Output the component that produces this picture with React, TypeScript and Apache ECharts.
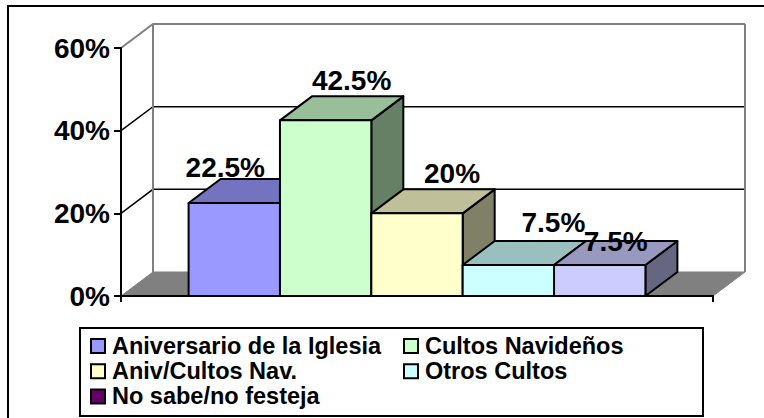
import React, { useEffect, useRef } from "react";
import * as echarts from "echarts";

const seriesNames = [
  "Aniversario de la Iglesia",
  "Cultos Navideños",
  "Aniv/Cultos Nav.",
  "Otros Cultos",
  "No sabe/no festeja",
];
const seriesValues = [22.5, 42.5, 20, 7.5, 7.5];
const legendColors = ["#9999FF", "#CCFFCC", "#FFFFCC", "#CCFFFF", "#660066"];
const barColors = ["#9999FF", "#CCFFCC", "#FFFFCC", "#CCFFFF", "#CCCCFF"];
const axisTicks = [0, 20, 40, 60];
const categories = [""];

// layout only
const DEPTH_X = 32;
const DEPTH_Y = 24;
const BARS_IN_BAND = 6.48;
const labelNudge = [
  [-9, -36],
  [26, -40],
  [35, -40],
  [45, -42.5],
  [16, -23.5],
];
const FONT = "'Liberation Sans', Arial, sans-serif";

function shade(hex: string, k: number) {
  const n = parseInt(hex.slice(1), 16);
  const c = [(n >> 16) & 255, (n >> 8) & 255, n & 255].map((v) => Math.round(v * k));
  return `rgb(${c[0]},${c[1]},${c[2]})`;
}

function renderWalls(params: any, api: any) {
  const cs = params.coordSys;
  const left = cs.x;
  const right = cs.x + cs.width;
  const floorY = api.coord([0, 0])[1];
  const topY = api.coord([0, axisTicks[axisTicks.length - 1]])[1];
  const gray = "#808080";
  const children: any[] = [];
  children.push({
    type: "polygon",
    shape: {
      points: [
        [left, floorY],
        [left + DEPTH_X, floorY - DEPTH_Y],
        [right + DEPTH_X, floorY - DEPTH_Y],
        [right, floorY],
      ],
    },
    style: { fill: gray, stroke: gray, lineWidth: 1 },
  });
  axisTicks.slice(1).forEach((v) => {
    const y = api.coord([0, v])[1];
    const stroke = v === axisTicks[axisTicks.length - 1] ? gray : "#000";
    const lineWidth = v === axisTicks[axisTicks.length - 1] ? 2 : 1.5;
    children.push({
      type: "polyline",
      shape: {
        points: [
          [left, y],
          [left + DEPTH_X, y - DEPTH_Y],
          [right + DEPTH_X, y - DEPTH_Y],
        ],
      },
      style: { fill: "none", stroke, lineWidth },
    });
  });
  children.push({
    type: "line",
    shape: { x1: left + DEPTH_X, y1: topY - DEPTH_Y, x2: left + DEPTH_X, y2: floorY - DEPTH_Y },
    style: { stroke: gray, lineWidth: 2 },
  });
  children.push({
    type: "line",
    shape: { x1: right + DEPTH_X, y1: topY - DEPTH_Y, x2: right + DEPTH_X, y2: floorY - DEPTH_Y },
    style: { stroke: gray, lineWidth: 2 },
  });
  return { type: "group", children };
}

function makeBarRenderer(i: number) {
  return (params: any, api: any) => {
    const base = api.coord([0, 0]);
    const top = api.coord([0, api.value(1)]);
    const band = api.size([1, 0])[0];
    const w = band / BARS_IN_BAND;
    const x0 = base[0] + (i - seriesValues.length / 2) * w;
    const x1 = x0 + w;
    const yT = top[1];
    const yB = base[1];
    const color = barColors[i];
    const edge = { stroke: "#000", lineWidth: 2, lineJoin: "round" };
    const value = api.value(1);
    return {
      type: "group",
      children: [
        {
          type: "polygon",
          shape: {
            points: [
              [x1, yB],
              [x1 + DEPTH_X, yB - DEPTH_Y],
              [x1 + DEPTH_X, yT - DEPTH_Y],
              [x1, yT],
            ],
          },
          style: { fill: shade(color, 0.5), ...edge },
        },
        {
          type: "polygon",
          shape: {
            points: [
              [x0, yT],
              [x0 + DEPTH_X, yT - DEPTH_Y],
              [x1 + DEPTH_X, yT - DEPTH_Y],
              [x1, yT],
            ],
          },
          style: { fill: shade(color, 0.75), ...edge },
        },
        {
          type: "rect",
          shape: { x: x0, y: yT, width: w, height: yB - yT },
          style: { fill: color, ...edge },
        },
        {
          type: "text",
          x: (x0 + x1) / 2 + labelNudge[i][0],
          y: yT + labelNudge[i][1],
          style: {
            text: `${value}%`,
            fill: "#000",
            fontFamily: FONT,
            fontWeight: "bold",
            fontSize: 28,
            align: "center",
            verticalAlign: "middle",
          },
        },
      ],
    };
  };
}

export default function App() {
  const ref = useRef<HTMLDivElement>(null);
  useEffect(() => {
    const chart = echarts.init(ref.current!, null, { renderer: "svg" });
    const legendBase = {
      orient: "vertical",
      icon: "rect",
      itemWidth: 14,
      itemHeight: 14,
      itemGap: 1.2,
      padding: 0,
      selectedMode: false,
      top: 334,
      itemStyle: { borderColor: "#000", borderWidth: 2 },
      textStyle: {
        fontFamily: FONT,
        fontWeight: "bold",
        fontSize: 23.5,
        color: "#000",
        padding: [0, 0, 0, 2],
        lineHeight: 23,
      },
    };
    chart.setOption({
      animation: false,
      backgroundColor: "#fff",
      grid: { left: 121, right: 51, top: 48, bottom: 122 },
      xAxis: {
        type: "category",
        data: categories,
        z: 3,
        boundaryGap: true,
        axisLine: { lineStyle: { color: "#000", width: 2 } },
        axisTick: { show: true, alignWithLabel: false, length: 6, lineStyle: { color: "#000", width: 2 } },
        axisLabel: { show: false },
      },
      yAxis: {
        type: "value",
        min: 0,
        max: 60,
        interval: 20,
        z: 3,
        splitLine: { show: false },
        axisLine: { show: true, lineStyle: { color: "#000", width: 2 } },
        axisTick: { show: true, length: 7, lineStyle: { color: "#000", width: 2 } },
        axisLabel: {
          margin: 11,
          formatter: "{value}%",
          color: "#000",
          fontFamily: FONT,
          fontWeight: "bold",
          fontSize: 28,
        },
      },
      legend: [
        { ...legendBase, left: 90, data: [seriesNames[0], seriesNames[2], seriesNames[4]] },
        { ...legendBase, left: 403, data: [seriesNames[1], seriesNames[3]] },
      ],
      graphic: [
        {
          type: "rect",
          shape: { x: 8, y: 6, width: 800, height: 460 },
          style: { fill: "none", stroke: "#000", lineWidth: 2 },
          silent: true,
        },
        {
          type: "rect",
          shape: { x: 80, y: 328, width: 623, height: 88 },
          style: { fill: "#fff", stroke: "#000", lineWidth: 2 },
          silent: true,
          z: 1,
        },
      ],
      series: [
        {
          type: "custom",
          name: "walls",
          silent: true,
          z: 1,
          renderItem: renderWalls,
          data: [[0, 0]],
          encode: { x: 0, y: 1 },
        },
        ...seriesNames.map((name, i) => ({
          type: "custom",
          name,
          silent: true,
          z: 2,
          itemStyle: { color: legendColors[i] },
          renderItem: makeBarRenderer(i),
          data: [[0, seriesValues[i]]],
          encode: { x: 0, y: 1 },
        })),
      ],
    });
    return () => chart.dispose();
  }, []);
  return (
    <div
      ref={ref}
      style={{ position: "fixed", left: 0, top: 0, width: 764, height: 418, overflow: "hidden" }}
    />
  );
}
